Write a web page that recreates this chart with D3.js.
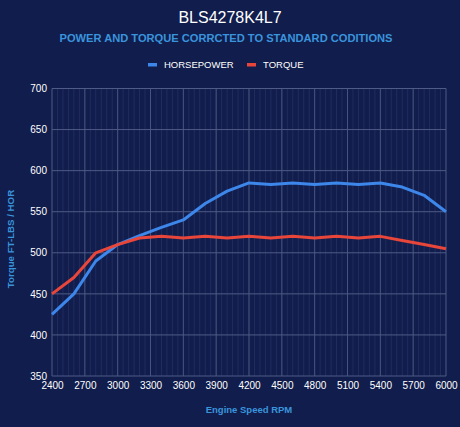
<!DOCTYPE html>
<html>
<head>
<meta charset="utf-8">
<script src="https://d3js.org/d3.v7.min.js"></script>
<style>
  html, body { margin: 0; padding: 0; background: #111d4c; }
  text { font-family: "Liberation Sans", Arial, sans-serif; }
</style>
</head>
<body>
<div id="chart-area"></div>
<script>
var rpm = [2400, 2600, 2800, 3000, 3200, 3400, 3600, 3800, 4000, 4200, 4400, 4600, 4800, 5000, 5200, 5400, 5600, 5800, 6000];
var horsepower = [425, 450, 490, 510, 521, 531, 540, 560, 575, 585, 583, 585, 583, 585, 583, 585, 580, 570, 550];
var torque = [450, 470, 500, 510, 518, 520, 518, 520, 518, 520, 518, 520, 518, 520, 518, 520, 515, 510, 505];
var xTicks = [2400, 2700, 3000, 3300, 3600, 3900, 4200, 4500, 4800, 5100, 5400, 5700, 6000];
var yTicks = [350, 400, 450, 500, 550, 600, 650, 700];
var seriesNames = ["HORSEPOWER", "TORQUE"];
var seriesColors = ["#3d86ea", "#e8463a"];

var W = 460, H = 427;
var margin = {left : 52, right : 14, top : 88.5, bottom : 51};
var width = W - margin.left - margin.right;
var height = H - margin.top - margin.bottom;

var svg = d3.select("#chart-area")
            .append("svg")
            .attr("width", W)
            .attr("height", H);

svg.append("rect")
   .attr("width", W)
   .attr("height", H)
   .attr("fill", "#111d4c");

var g = svg.append("g")
           .attr("transform", "translate(" + margin.left + ", " + margin.top + ")");

var x = d3.scaleLinear().domain([2400, 6000]).range([0, width]);
var y = d3.scaleLinear().domain([350, 700]).range([height, 0]);

// faint minor vertical grid
g.append("g")
 .selectAll("line")
 .data(d3.range(2400, 6001, 50))
 .enter().append("line")
 .attr("x1", d => x(d)).attr("x2", d => x(d))
 .attr("y1", 0).attr("y2", height)
 .attr("stroke", "#3a4777")
 .attr("stroke-opacity", 0.4)
 .attr("stroke-width", 1);

// major vertical grid
g.append("g")
 .selectAll("line")
 .data(xTicks)
 .enter().append("line")
 .attr("x1", d => x(d)).attr("x2", d => x(d))
 .attr("y1", 0).attr("y2", height)
 .attr("stroke", "#46527f")
 .attr("stroke-width", 1);

// horizontal grid
g.append("g")
 .selectAll("line")
 .data(yTicks)
 .enter().append("line")
 .attr("x1", 0).attr("x2", width)
 .attr("y1", d => y(d)).attr("y2", d => y(d))
 .attr("stroke", "#4f5a86")
 .attr("stroke-width", 1);

var xAxisCall = d3.axisBottom(x).tickValues(xTicks).tickSize(0).tickPadding(6).tickFormat(d => d);
var xAxisGroup = g.append("g")
  .attr("transform", "translate(0," + height + ")")
  .call(xAxisCall);
xAxisGroup.select(".domain").remove();
xAxisGroup.selectAll("text")
  .attr("fill", "#ffffff")
  .attr("font-size", "10px")
  .attr("font-family", "Liberation Sans, Arial, sans-serif");

var yAxisCall = d3.axisLeft(y).tickValues(yTicks).tickSize(0).tickPadding(5);
var yAxisGroup = g.append("g").call(yAxisCall);
yAxisGroup.select(".domain").remove();
yAxisGroup.selectAll("text")
  .attr("fill", "#ffffff")
  .attr("font-size", "10px")
  .attr("font-family", "Liberation Sans, Arial, sans-serif");

var line = d3.line()
  .x((d, i) => x(rpm[i]))
  .y(d => y(d));

[horsepower, torque].forEach((s, i) => {
  g.append("path")
   .datum(s)
   .attr("fill", "none")
   .attr("stroke", seriesColors[i])
   .attr("stroke-width", 3)
   .attr("stroke-linejoin", "round")
   .attr("d", line);
});

// titles
svg.append("text")
   .attr("x", W / 2)
   .attr("y", 23)
   .attr("text-anchor", "middle")
   .attr("fill", "#ffffff")
   .attr("font-size", "16px")
   .text("BLS4278K4L7");

svg.append("text")
   .attr("x", 226)
   .attr("y", 42)
   .attr("text-anchor", "middle")
   .attr("fill", "#3a94dc")
   .attr("font-size", "11.5px")
   .attr("font-weight", "bold")
   .attr("textLength", 333)
   .attr("lengthAdjust", "spacingAndGlyphs")
   .text("POWER AND TORQUE CORRCTED TO STANDARD CODITIONS");

// legend
var legendX = [148, 247];
seriesNames.forEach((name, i) => {
  var row = svg.append("g")
    .attr("transform", "translate(" + legendX[i] + ",63)");
  row.append("rect")
    .attr("x", 0).attr("y", 0)
    .attr("width", 9).attr("height", 3.5)
    .attr("fill", seriesColors[i]);
  row.append("text")
    .attr("x", 16).attr("y", 5)
    .attr("fill", "#ffffff")
    .attr("font-size", "9.5px")
    .text(name);
});

// axis titles
svg.append("text")
   .attr("x", margin.left + width / 2)
   .attr("y", 413)
   .attr("text-anchor", "middle")
   .attr("fill", "#3a94dc")
   .attr("font-size", "9.5px")
   .attr("font-weight", "bold")
   .text("Engine Speed RPM");

svg.append("text")
   .attr("transform", "translate(14," + 239 + ") rotate(-90)")
   .attr("text-anchor", "middle")
   .attr("fill", "#3a94dc")
   .attr("font-size", "9.7px")
   .attr("font-weight", "bold")
   .text("Torque FT-LBS / HOR");
</script>
</body>
</html>
